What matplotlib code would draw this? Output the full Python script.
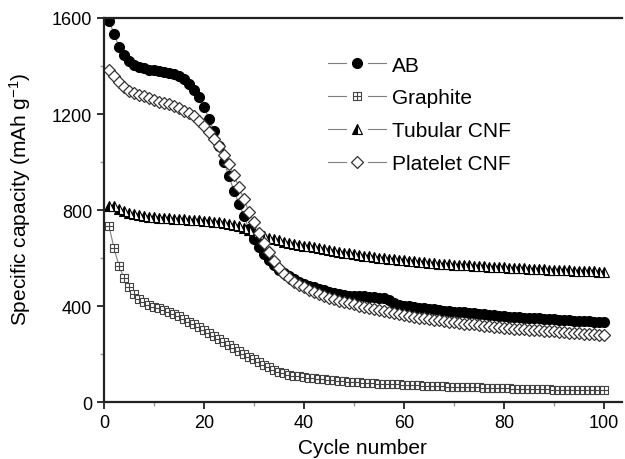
import numpy as np
import matplotlib
matplotlib.use("Agg")
import matplotlib.pyplot as plt
from matplotlib.path import Path
from matplotlib.lines import Line2D
from matplotlib.legend_handler import HandlerLine2D
from matplotlib.ticker import MultipleLocator

plt.rcParams["font.family"] = ["Liberation Sans", "DejaVu Sans"]
plt.rcParams["mathtext.fontset"] = "custom"
plt.rcParams["mathtext.rm"] = "Liberation Sans"
plt.rcParams["mathtext.it"] = "Liberation Sans:italic"

cycles = list(range(1, 101))

ab = [1588, 1535, 1480, 1445, 1420, 1405, 1395, 1390, 1385, 1382,
      1378, 1375, 1370, 1365, 1358, 1345, 1325, 1300, 1270, 1230,
      1180, 1130, 1065, 1000, 940, 880, 825, 775, 720, 680,
      645, 615, 590, 570, 552, 537, 523, 512, 502, 493,
      485, 478, 471, 465, 460, 455, 450, 446, 442, 440,
      440, 440, 438, 436, 434, 432, 425, 412, 406, 402,
      399, 396, 393, 390, 388, 386, 384, 381, 379, 377,
      375, 373, 371, 369, 367, 365, 363, 361, 360, 358,
      356, 355, 353, 352, 350, 349, 348, 346, 345, 344,
      343, 341, 340, 339, 338, 337, 336, 335, 334, 333]

graphite = [733, 642, 567, 517, 479, 450, 430, 417, 405, 396,
            390, 382, 375, 368, 358, 346, 335, 323, 312, 300,
            288, 275, 262, 250, 237, 225, 212, 200, 189, 178,
            167, 156, 144, 133, 125, 119, 114, 110, 107, 104,
            101, 99, 97, 95, 93, 91, 89, 87, 85, 84,
            82, 81, 80, 79, 77, 76, 75, 74, 73, 72,
            71, 70, 69, 68, 67, 67, 66, 65, 64, 64,
            63, 62, 62, 61, 61, 60, 59, 59, 58, 57,
            57, 56, 56, 55, 55, 54, 54, 53, 53, 52,
            52, 52, 51, 51, 51, 50, 50, 50, 50, 50]

tubular = [815, 818, 805, 795, 787, 782, 778, 775, 772, 770,
           768, 767, 765, 764, 762, 761, 760, 758, 757, 755,
           753, 751, 748, 745, 742, 738, 733, 727, 718, 708,
           698, 690, 684, 678, 673, 668, 664, 660, 656, 652,
           648, 644, 640, 636, 632, 628, 625, 622, 619, 616,
           613, 610, 607, 604, 601, 599, 597, 594, 592, 590,
           588, 586, 584, 582, 580, 578, 577, 575, 574, 572,
           571, 570, 569, 567, 566, 565, 564, 563, 562, 561,
           560, 559, 558, 557, 556, 555, 554, 553, 552, 551,
           550, 549, 548, 547, 547, 546, 545, 544, 543, 542]

platelet = [1385, 1358, 1333, 1312, 1296, 1287, 1280, 1274, 1268, 1260,
            1252, 1246, 1240, 1234, 1225, 1214, 1203, 1190, 1172, 1150,
            1125, 1097, 1065, 1030, 990, 945, 895, 845, 792, 750,
            706, 664, 624, 587, 558, 535, 515, 500, 488, 478,
            468, 458, 450, 442, 435, 428, 422, 417, 412, 407,
            402, 397, 392, 388, 384, 380, 376, 372, 368, 364,
            359, 355, 352, 349, 346, 343, 340, 337, 334, 332,
            330, 327, 325, 323, 320, 318, 316, 314, 312, 310,
            308, 306, 305, 303, 301, 300, 298, 297, 295, 294,
            292, 291, 289, 288, 287, 285, 284, 282, 281, 279]

# square with a cross inside (graphite marker)
sq_verts = [(-1, -1), (1, -1), (1, 1), (-1, 1), (-1, -1),
            (0, -1), (0, 1), (-1, 0), (1, 0)]
sq_codes = [Path.MOVETO, Path.LINETO, Path.LINETO, Path.LINETO, Path.CLOSEPOLY,
            Path.MOVETO, Path.LINETO, Path.MOVETO, Path.LINETO]
SQ_CROSS = Path(sq_verts, sq_codes)

LINE = "#808080"


class GapLine(HandlerLine2D):
    # legend handle drawn as  —●—  (line broken around the marker)
    def create_artists(self, legend, orig_handle, xdescent, ydescent,
                       width, height, fontsize, trans):
        y = height / 2 - ydescent
        x0 = -xdescent; x1 = x0 + width; xm = (x0 + x1) / 2
        g = 0.19 * width
        seg = Line2D([x0, xm - g, np.nan, xm + g, x1], [y] * 5)
        self.update_prop(seg, orig_handle, legend)
        seg.set_marker("None")
        mk = Line2D([xm], [y])
        self.update_prop(mk, orig_handle, legend)
        mk.set_linestyle("None")
        seg.set_transform(trans); mk.set_transform(trans)
        return [seg, mk]


fig = plt.figure(figsize=(6.25, 4.6), dpi=100)
ax = fig.add_axes([0.1664, 0.1239, 0.8286, 0.8348])

ax.plot(cycles, ab, color=LINE, lw=0.8, marker="o", ms=7.2,
        mfc="black", mec="black", mew=0.8, label="AB")
ax.plot(cycles, graphite, color=LINE, lw=0.8, marker=SQ_CROSS, ms=6.0,
        mfc="white", mec="#444444", mew=0.8, label="Graphite")
ax.plot(cycles, tubular, color=LINE, lw=0.8, marker="^", ms=7.5,
        fillstyle="left", mfc="black", mfcalt="white", mec="black", mew=0.8,
        label="Tubular CNF")
ax.plot(cycles, platelet, color=LINE, lw=0.8, marker="D", ms=6.2,
        mfc="white", mec="#333333", mew=0.9, label="Platelet CNF")

ax.set_xlim(0, 103.6)
ax.set_ylim(0, 1600)
ax.xaxis.set_major_locator(MultipleLocator(20))
ax.xaxis.set_minor_locator(MultipleLocator(10))
ax.yaxis.set_major_locator(MultipleLocator(400))
ax.yaxis.set_minor_locator(MultipleLocator(200))

for s in ["left", "bottom", "top"]:
    ax.spines[s].set_linewidth(1.6)
    ax.spines[s].set_color("#222222")
ax.spines["right"].set_visible(False)

ax.tick_params(axis="both", which="major", direction="out", length=5,
               width=1.3, labelsize=13, colors="#222222", labelcolor="black")
ax.tick_params(axis="both", which="minor", direction="out", length=3,
               width=1.0, colors="#999999")
ax.tick_params(top=False, right=False, which="both")

ax.set_xlabel("Cycle number", fontsize=15, labelpad=5)
ax.set_ylabel("Specific capacity (mAh g$^{\\mathrm{-1}}$)", fontsize=15)
ax.yaxis.set_label_coords(-0.137, 0.53)

handles, labels = ax.get_legend_handles_labels()
leg = ax.legend(handles, labels, loc="upper left", bbox_to_anchor=(0.432, 0.902),
                frameon=False, fontsize=15, handlelength=2.8, handletextpad=0.3,
                labelspacing=0.66, borderaxespad=0, borderpad=0,
                handler_map={Line2D: GapLine()})

fig.savefig("out.png", dpi=100)
